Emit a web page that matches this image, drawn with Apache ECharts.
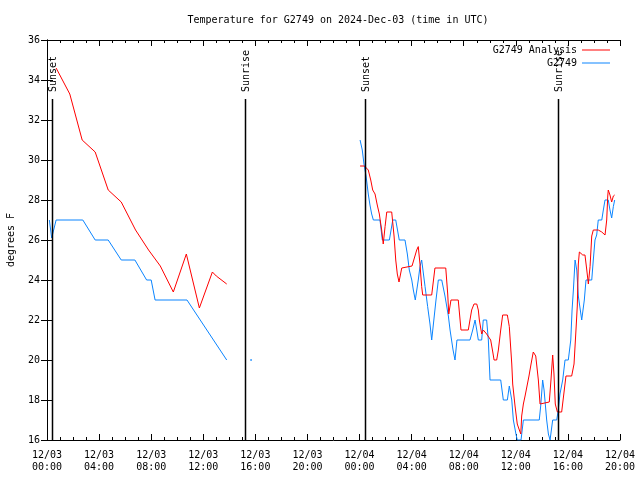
<!DOCTYPE html>
<html><head><meta charset="utf-8">
<script src="https://cdn.jsdelivr.net/npm/echarts@6/dist/echarts.min.js"></script>
<style>html,body{margin:0;padding:0;background:#fff}#c{width:640px;height:480px}</style>
</head><body><div id="c"></div>
<script>
// hours since 2024-12-03 00:00 UTC
const xTickLabels = ['12/03\n00:00','12/03\n04:00','12/03\n08:00','12/03\n12:00','12/03\n16:00','12/03\n20:00',
  '12/04\n00:00','12/04\n04:00','12/04\n08:00','12/04\n12:00','12/04\n16:00','12/04\n20:00'];
const yTicks = [16,18,20,22,24,26,28,30,32,34,36];

const analysisHours1 = [0.7,1.75,2.7,3.7,4.7,5.7,6.8,7.8,8.7,9.7,10.7,11.7,12.7,13.0,13.8];
const analysisTemps1 = [34.6,33.3,31.0,30.4,28.5,27.9,26.5,25.5,24.7,23.4,25.3,22.6,24.4,24.2,23.8];

const analysisHours2 = [24.04,24.38,24.50,24.67,24.86,25.01,25.19,25.36,25.52,25.63,25.70,25.82,25.96,26.09,26.47,26.65,26.78,26.90,27.03,27.24,28.03,28.39,28.51,28.64,28.77,28.85,29.54,29.79,30.62,30.77,30.85,31.02,31.58,31.79,32.35,32.48,32.61,32.79,33.00,33.12,33.20,33.38,33.50,33.76,34.07,34.23,34.33,34.53,34.66,34.84,34.99,35.35,35.50,35.69,35.76,35.94,36.11,36.27,36.38,36.45,36.58,36.71,36.84,37.01,37.17,37.34,37.53,37.73,37.86,38.57,38.70,38.83,38.93,39.03,39.19,39.52,39.85,40.29,40.47,40.62,40.72,40.80,40.88,41.14,41.31,41.45,41.57,41.70,41.83,41.95,42.08,42.33,42.60,42.85,42.98,43.06,43.10,43.23,43.36,43.49,43.59];
const analysisTemps2 = [29.7,29.7,29.6,29.5,29.0,28.5,28.3,27.75,27.3,26.8,26.5,25.8,26.67,27.4,27.4,26.2,25.0,24.3,23.9,24.6,24.7,25.5,25.67,24.8,23.67,23.25,23.25,24.6,24.6,23.3,22.3,23.0,23.0,21.5,21.5,22.0,22.5,22.8,22.8,22.5,22.0,21.3,21.5,21.3,21.0,20.4,20.0,20.0,20.5,21.5,22.25,22.25,21.67,19.8,18.8,17.7,16.8,16.5,16.3,17.2,17.8,18.2,18.1,19.2,19.8,20.4,20.2,19.0,17.8,17.9,19.0,20.25,19.3,17.8,17.4,17.4,19.2,19.2,19.8,21.5,22.7,24.8,25.4,25.25,25.25,24.5,23.8,24.67,26.2,26.5,26.6,26.5,26.4,26.25,27.0,28.2,28.5,28.25,27.9,28.2,28.25];

const obsHours1 = [0.18,0.36,0.5,0.7,2.75,3.7,4.7,5.7,6.75,7.65,8.0,8.3,10.75,13.8];
const obsTemps1 = [27.0,26.1,26.0,27.0,27.0,26.0,26.0,25.0,25.0,24.0,24.0,23.0,23.0,20.0];

const obsHours2 = [24.04,24.21,24.34,24.50,24.67,24.80,24.93,25.06,25.57,25.75,26.29,26.55,26.78,27.05,27.49,27.67,27.82,28.01,28.13,28.28,28.51,28.64,28.77,29.03,29.23,29.41,29.54,29.87,30.05,30.31,30.56,30.82,30.95,31.18,31.33,31.48,32.48,32.69,32.87,33.00,33.12,33.38,33.50,33.76,33.89,34.02,34.84,35.04,35.35,35.50,35.59,35.69,35.81,36.01,36.11,36.40,36.58,37.80,37.91,38.06,38.17,38.37,38.50,38.63,38.83,39.14,39.26,39.39,39.60,39.78,40.03,40.22,40.32,40.42,40.55,40.68,40.80,41.06,41.26,41.39,41.83,41.95,42.08,42.21,42.33,42.60,42.72,42.85,43.10,43.23,43.36,43.49,43.59];
const obsTemps2 = [31.0,30.5,29.8,29.2,28.3,27.75,27.3,27.0,27.0,26.0,26.0,27.0,27.0,26.0,26.0,25.3,24.5,24.0,23.5,23.0,24.0,24.67,25.0,23.67,22.67,21.8,21.0,23.0,24.0,24.0,23.2,22.2,21.5,20.5,20.0,21.0,21.0,21.5,22.0,21.5,21.0,21.0,22.0,22.0,21.0,19.0,19.0,18.0,18.0,18.7,18.7,18.0,17.0,16.3,16.0,16.0,17.0,17.0,17.7,19.0,18.5,17.0,16.3,16.0,17.0,17.0,17.5,18.3,19.0,20.0,20.0,21.0,22.5,23.5,25.0,24.5,23.2,22.0,23.0,24.0,24.0,25.0,26.0,26.25,27.0,27.0,27.5,28.0,28.0,27.5,27.1,27.67,28.0];

const obsIsolatedHours = [15.67];
const obsIsolatedTemps = [20.0];

const eventHours = [0.38, 15.2, 24.42, 39.24];
const eventNames = ['Sunset','Sunrise','Sunset','Sunrise'];

function zip(h, v){ return h.map((x,i)=>[x, v[i]]); }
const analysisData = zip(analysisHours1, analysisTemps1).concat([[19, '-']], zip(analysisHours2, analysisTemps2));
const obsData = zip(obsHours1, obsTemps1).concat([[19, '-']], zip(obsHours2, obsTemps2));

const FONT = 'DejaVu Sans Mono';
const RED = '#ff0000', BLUE = '#0a84ff';

const chart = echarts.init(document.getElementById('c'), null, {renderer:'canvas'});
const axisCommon = {
  axisLine:{show:true, lineStyle:{color:'#000', width:1}},
  splitLine:{show:false}
};
chart.setOption({
  animation:false,
  backgroundColor:'#fff',
  title:{text:'Temperature for G2749 on 2024-Dec-03 (time in UTC)', left:333, textAlign:'center', top:10,
    textStyle:{fontFamily:FONT, fontSize:10, fontWeight:'normal', color:'#000'}},
  legend:{data:['G2749 Analysis','G2749'], orient:'vertical', right:30, top:44, align:'right',
    padding:0, icon:'rect', itemWidth:28, itemHeight:1, itemGap:1,
    textStyle:{fontFamily:FONT, fontSize:10, color:'#000', lineHeight:12}},
  grid:{left:47, right:20, top:40, bottom:40, containLabel:false, outerBoundsMode:'none'},
  xAxis:[
    Object.assign({type:'value', min:0, max:44, interval:4, position:'bottom',
      axisTick:{show:true, inside:true, length:6, lineStyle:{color:'#000'}},
      minorTick:{show:true, splitNumber:4, length:3, lineStyle:{color:'#000'}},
      axisLabel:{fontFamily:FONT, fontSize:10, color:'#000', lineHeight:12, margin:9,
        formatter:v=>xTickLabels[Math.round(v/4)]}}, axisCommon),
    Object.assign({type:'value', min:0, max:44, interval:4, position:'top',
      axisTick:{show:true, inside:true, length:6, lineStyle:{color:'#000'}},
      minorTick:{show:true, splitNumber:4, length:3, lineStyle:{color:'#000'}},
      axisLabel:{show:false}}, axisCommon)
  ],
  yAxis:[
    Object.assign({type:'value', min:16, max:36, interval:2, position:'left',
      name:'degrees F', nameLocation:'middle', nameGap:31, nameRotate:90,
      nameTextStyle:{fontFamily:FONT, fontSize:10, color:'#000'},
      axisTick:{show:true, inside:true, length:6, lineStyle:{color:'#000'}},
      axisLabel:{fontFamily:FONT, fontSize:10, color:'#000', margin:7,
        formatter:v=>String(yTicks[Math.round((v-16)/2)])}}, axisCommon),
    Object.assign({type:'value', min:16, max:36, interval:2, position:'right',
      axisTick:{show:true, inside:true, length:6, lineStyle:{color:'#000'}},
      axisLabel:{show:false}}, axisCommon)
  ],
  series:[
    {name:'G2749 Analysis', type:'line', data:analysisData, symbol:'none', showSymbol:false,
      lineStyle:{color:RED, width:1}, itemStyle:{color:RED}, connectNulls:false, z:3},
    {name:'G2749', type:'line', data:obsData, symbol:'none', showSymbol:false,
      lineStyle:{color:BLUE, width:1}, itemStyle:{color:BLUE}, connectNulls:false, z:2},
    {name:'obs-isolated', type:'scatter', data:zip(obsIsolatedHours, obsIsolatedTemps), symbolSize:2,
      itemStyle:{color:BLUE}, z:2},
    {name:'events', type:'custom', z:5,
      data:eventHours.map((h,i)=>[h, i]),
      renderItem:function(params, api){
        const t = api.value(0);
        const idx = api.value(1);
        const top = api.coord([t, 36]);
        const bot = api.coord([t, 16]);
        const x = Math.round(top[0]) + 0.5;
        return {type:'group', children:[
          {type:'line', shape:{x1:x, y1:top[1]+59, x2:x, y2:bot[1]},
            style:{stroke:'#000', lineWidth:1.5}},
          {type:'text', x:x+1, y:top[1]+52, rotation:Math.PI/2,
            style:{text:eventNames[idx], fontFamily:FONT, fontSize:10, fill:'#000',
              align:'left', verticalAlign:'middle'}}
        ]};
      }
    }
  ]
});
</script>
</body></html>
